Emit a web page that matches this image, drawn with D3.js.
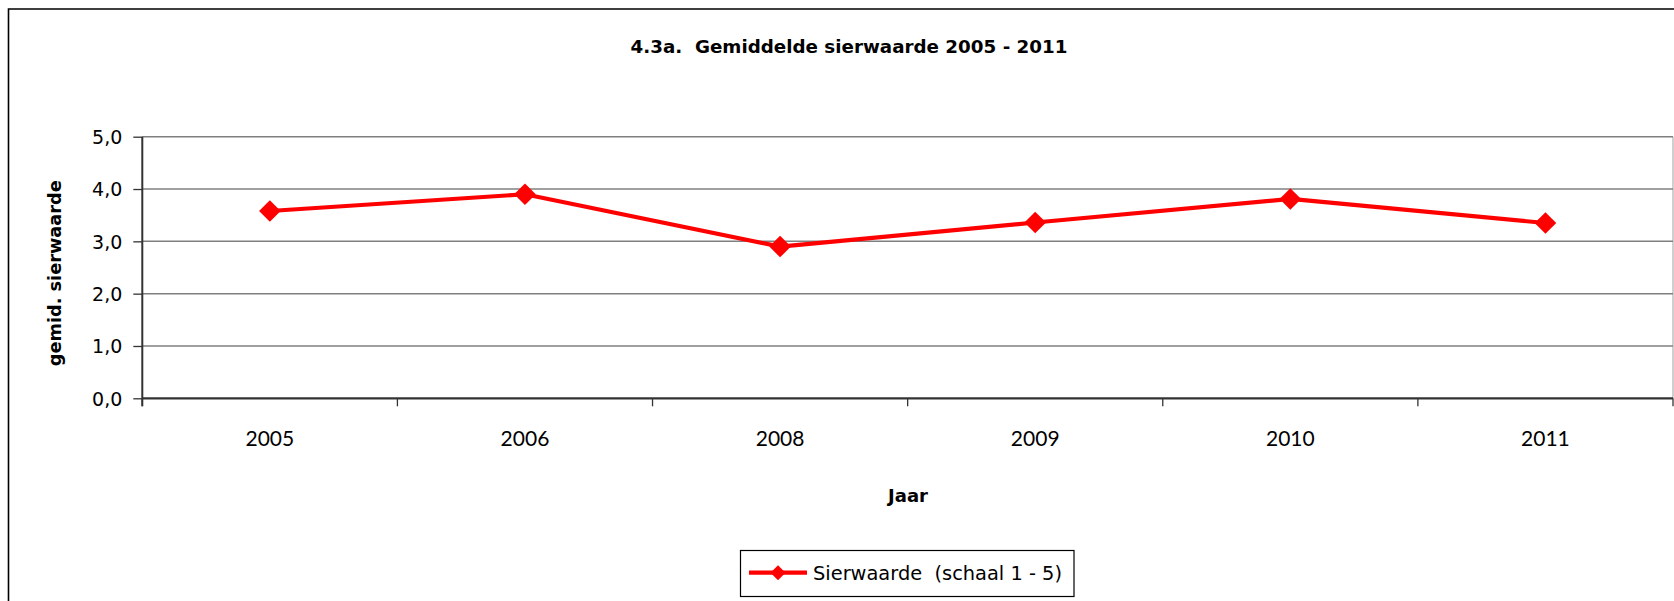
<!DOCTYPE html>
<html>
<head>
<meta charset="utf-8">
<script src="https://cdn.jsdelivr.net/npm/d3@7"></script>
<style>
  html, body { margin: 0; padding: 0; background: #fff; }
  svg { display: block; }
  text.pre { white-space: pre; }
</style>
</head>
<body>
<svg id="chart" width="1674" height="601"></svg>
<script>
const years = ["2005", "2006", "2008", "2009", "2010", "2011"];
const sierwaarde = [3.58, 3.90, 2.90, 3.36, 3.81, 3.35];
const yTicks = [0, 1, 2, 3, 4, 5];
const titleText = "4.3a.  Gemiddelde sierwaarde 2005 - 2011";
const yLabel = "gemid. sierwaarde";
const xLabel = "Jaar";
const seriesName = "Sierwaarde  (schaal 1 - 5)";

const svg = d3.select("#chart");
const W = 1674, H = 601;

// outer chart border (right and bottom run off the picture)
svg.append("path")
  .attr("d", `M8.5,${H + 5} L8.5,9 L${W + 5},9`)
  .attr("fill", "none").attr("stroke", "#000").attr("stroke-width", 1.6);

const plot = { left: 142.3, right: 1673, top: 136.7, bottom: 398.3 };

const x = d3.scaleBand().domain(years).range([plot.left, plot.right]).padding(0);
const y = d3.scaleLinear().domain([0, 5]).range([plot.bottom, plot.top]);

// plot area right border
svg.append("line")
  .attr("x1", plot.right).attr("x2", plot.right)
  .attr("y1", plot.top).attr("y2", plot.bottom)
  .attr("stroke", "#b0b0b0").attr("stroke-width", 1.2);

// gridlines
svg.append("g").selectAll("line").data(yTicks.filter(d => d > 0)).join("line")
  .attr("x1", plot.left).attr("x2", plot.right)
  .attr("y1", d => y(d)).attr("y2", d => y(d))
  .attr("stroke", "#808080").attr("stroke-width", 1.5);

// y axis
const yAxis = svg.append("g")
  .attr("transform", `translate(${plot.left},0)`)
  .call(d3.axisLeft(y).tickValues(yTicks).tickSize(9).tickPadding(11)
    .tickFormat(d => d3.format(".1f")(d).replace(".", ",")));
yAxis.select(".domain").attr("stroke", "#333").attr("stroke-width", 2)
  .attr("d", `M0,${plot.top}V${plot.bottom + 8}`);
yAxis.selectAll(".tick line").attr("stroke", "#333").attr("stroke-width", 1.3);
yAxis.selectAll(".tick text")
  .attr("font-family", "DejaVu Sans").attr("font-size", 19).attr("fill", "#000")
  .attr("dy", "0.36em");

// x axis
const xAxis = svg.append("g")
  .attr("transform", `translate(0,${plot.bottom})`)
  .call(d3.axisBottom(x).tickSize(0).tickPadding(33));
xAxis.select(".domain").attr("stroke", "#333").attr("stroke-width", 2.2)
  .attr("d", `M${plot.left},0H${plot.right}`);
xAxis.selectAll(".tick text")
  .attr("font-family", "Lato").attr("font-size", 21).attr("fill", "#000");
// tick marks at category boundaries
const bounds = years.map(d => x(d)).concat([x(years[years.length - 1]) + x.bandwidth()]);
xAxis.append("g").selectAll("line").data(bounds).join("line")
  .attr("x1", d => d).attr("x2", d => d).attr("y1", 0).attr("y2", 8)
  .attr("stroke", "#333").attr("stroke-width", 1.3);

// series
const cx = d => x(d) + x.bandwidth() / 2;
const line = d3.line().x((d, i) => cx(years[i])).y(d => y(d));
svg.append("path").datum(sierwaarde)
  .attr("d", line).attr("fill", "none")
  .attr("stroke", "#ff0000").attr("stroke-width", 4.2).attr("stroke-linejoin", "round");

const diamond = (s) => `M0,${-s}L${s},0L0,${s}L${-s},0Z`;
svg.append("g").selectAll("path").data(sierwaarde).join("path")
  .attr("transform", (d, i) => `translate(${cx(years[i])},${y(d)})`)
  .attr("d", diamond(10.8)).attr("fill", "#ff0000");

// title
svg.append("text").attr("class", "pre")
  .attr("x", 849).attr("y", 53.3).attr("text-anchor", "middle")
  .attr("font-family", "DejaVu Sans").attr("font-weight", "bold").attr("font-size", 18.5)
  .attr("textLength", 437).attr("lengthAdjust", "spacingAndGlyphs")
  .text(titleText);

// y label
svg.append("text")
  .attr("transform", `translate(61,273.3) rotate(-90)`)
  .attr("text-anchor", "middle")
  .attr("font-family", "DejaVu Sans").attr("font-weight", "bold").attr("font-size", 17)
  .attr("textLength", 186).attr("lengthAdjust", "spacingAndGlyphs")
  .text(yLabel);

// x label
svg.append("text")
  .attr("x", 908).attr("y", 501.7).attr("text-anchor", "middle")
  .attr("font-family", "DejaVu Sans").attr("font-weight", "bold").attr("font-size", 18)
  .text(xLabel);

// legend
const lg = svg.append("g");
lg.append("rect").attr("x", 740.5).attr("y", 550.5).attr("width", 333.5).attr("height", 46)
  .attr("fill", "#fff").attr("stroke", "#000").attr("stroke-width", 1.2);
lg.append("line").attr("x1", 749).attr("x2", 807).attr("y1", 572.7).attr("y2", 572.7)
  .attr("stroke", "#ff0000").attr("stroke-width", 4.2);
lg.append("path").attr("transform", "translate(778,572.7)").attr("d", diamond(7.5)).attr("fill", "#ff0000");
lg.append("text").attr("class", "pre").attr("x", 813).attr("y", 579.5)
  .attr("font-family", "DejaVu Sans").attr("font-size", 19)
  .attr("textLength", 249).attr("lengthAdjust", "spacingAndGlyphs")
  .text(seriesName);
</script>
</body>
</html>
